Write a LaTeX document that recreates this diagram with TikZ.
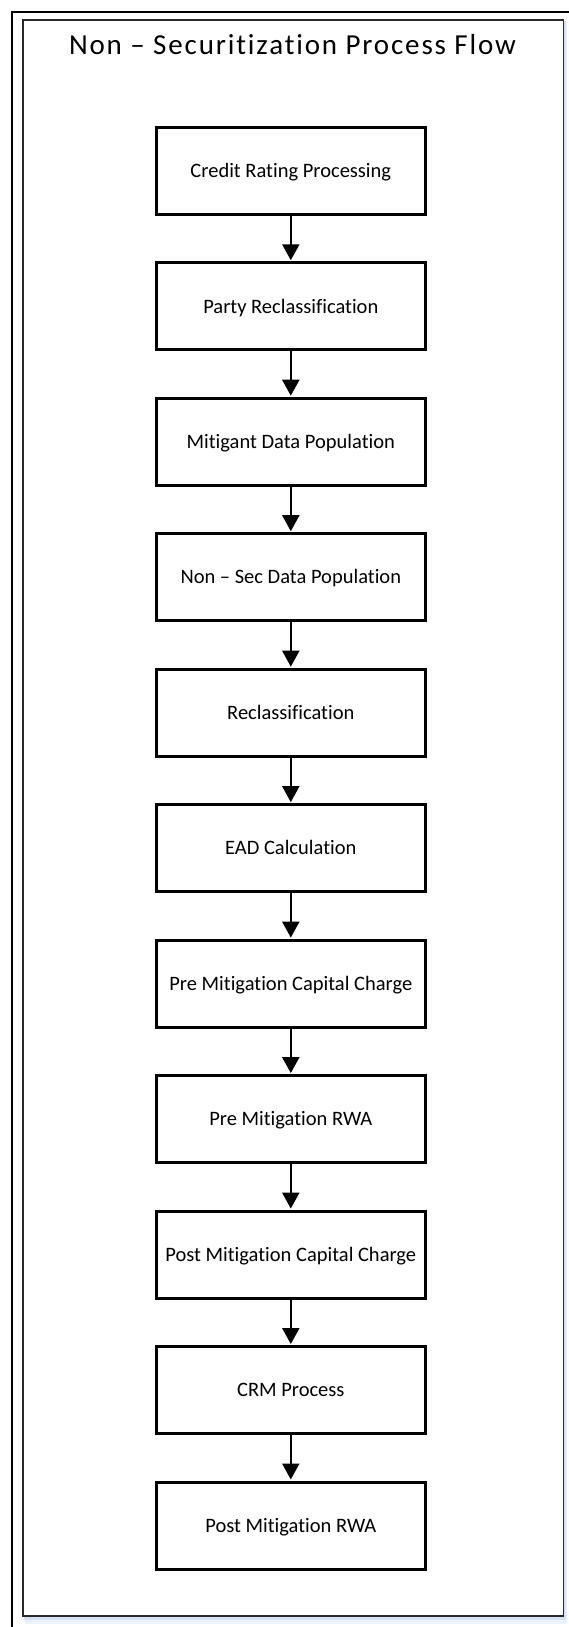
\documentclass[tikz,border=0pt]{standalone}
\usepackage{fontspec}
\setmainfont{Carlito}[RawFeature=-liga]
\usetikzlibrary{arrows.meta}
\definecolor{shadowblue}{RGB}{214,226,243}
\definecolor{shadowblue2}{RGB}{236,242,250}
\tikzset{
  stepbox/.style={draw=black, line width=3pt, fill=white, minimum width=268.7pt, minimum height=87pt,
    inner sep=0pt, font=\fontsize{20.5}{24}\selectfont, text height=13.1pt, text depth=0pt},
  flowarrow/.style={line width=2.1pt, -{Triangle[width=17pt,length=16pt]}, shorten >=1.2pt},
  titletext/.style={font=\fontsize{29}{33}\selectfont\addfontfeature{LetterSpace=6.4}, inner sep=0pt, anchor=base}
}
\begin{document}
\begin{tikzpicture}[x=1pt,y=-1pt]
\useasboundingbox (0,0) rectangle (569,1627);
\clip (0,0) rectangle (569,1627);
% outer frame (cut by page edge)
\draw[line width=2pt, black] (11.7,1640) -- (11.7,12.3) -- (585,12.3);
% shadow of inner frame
\fill[shadowblue2] (24.5,22) rectangle (567,1624);
\fill[shadowblue] (23.5,21) rectangle (565.5,1619.5);
% inner frame
\draw[line width=1.6pt, draw={rgb,255:red,40;green,40;blue,40}, fill=white] (22.7,20.3) rectangle (563.3,1615.7);
% title
\node[titletext] (title) at (292.5,55) {Non – Securitization Process Flow};
% boxes
\node[stepbox] (b1)  at (290.8,171.00) {Credit Rating Processing};
\node[stepbox] (b2)  at (290.8,306.47) {Party Reclassification};
\node[stepbox] (b3)  at (290.8,441.94) {Mitigant Data Population};
\node[stepbox] (b4)  at (290.8,577.41) {Non – Sec Data Population};
\node[stepbox] (b5)  at (290.8,712.88) {Reclassification};
\node[stepbox] (b6)  at (290.8,848.35) {EAD Calculation};
\node[stepbox] (b7)  at (290.8,983.82) {Pre Mitigation Capital Charge};
\node[stepbox] (b8)  at (290.8,1119.29) {Pre Mitigation RWA};
\node[stepbox] (b9)  at (290.8,1254.76) {Post Mitigation Capital Charge};
\node[stepbox] (b10) at (290.8,1390.23) {CRM Process};
\node[stepbox] (b11) at (290.8,1525.70) {Post Mitigation RWA};
% arrows
\foreach \a/\b in {b1/b2,b2/b3,b3/b4,b4/b5,b5/b6,b6/b7,b7/b8,b8/b9,b9/b10,b10/b11}
  \draw[flowarrow] (\a.south) -- (\b.north);
\end{tikzpicture}
\end{document}
